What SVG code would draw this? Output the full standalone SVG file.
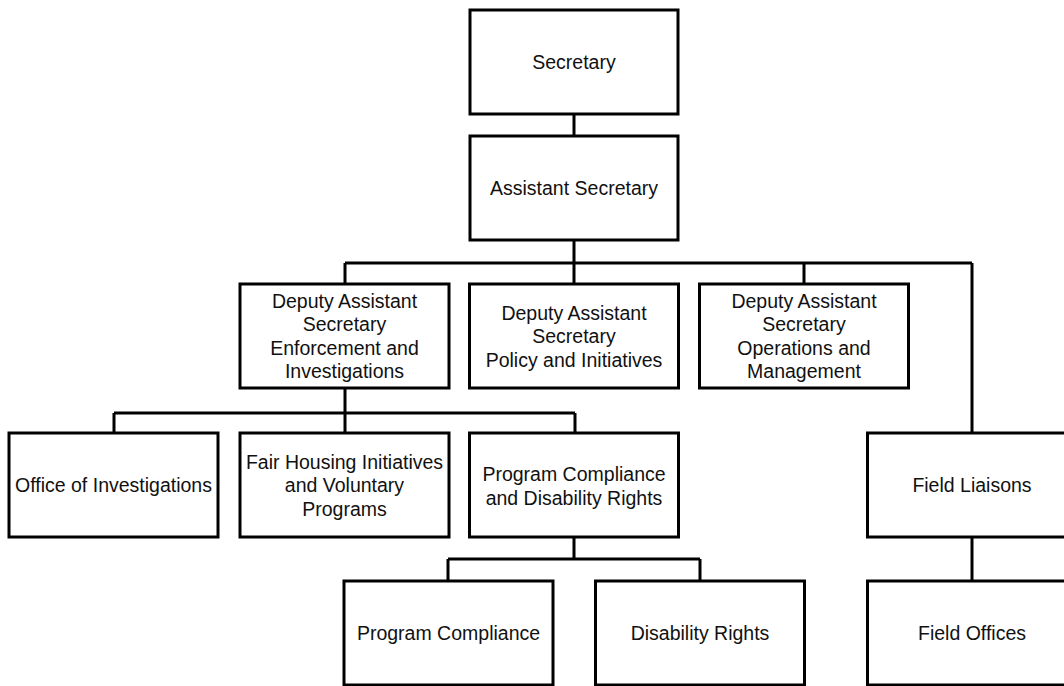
<svg xmlns="http://www.w3.org/2000/svg" width="1064" height="686" viewBox="0 0 1064 686">
<style>
.box{fill:#fff;stroke:#000;stroke-width:3}
.lbl{font-family:"Liberation Sans",Arial,sans-serif;font-size:19.5px;fill:#111;text-anchor:middle}
.con{fill:none;stroke:#000;stroke-width:3}
</style>
<rect width="1064" height="686" fill="#fff"/>
<g id="connectors">
<path class="con" d="M574 114V136"/>
<path class="con" d="M574 240V263M345 263H972M345 263V284M574 263V284M804 263V284M972 263V433"/>
<path class="con" d="M345 388V413M114 413H575M114 413V433M345 413V433M575 413V433"/>
<path class="con" d="M574 537V559M448 559H700M448 559V581M700 559V581"/>
<path class="con" d="M972 537V581"/>
</g>
<g id="secretary"><rect class="box" x="470" y="10" width="208" height="104"/><text class="lbl" x="574" y="69">Secretary</text></g>
<g id="assistant-secretary"><rect class="box" x="470" y="136" width="208" height="104"/><text class="lbl" x="574" y="195">Assistant Secretary</text></g>
<g id="das-enforcement"><rect class="box" x="240" y="284" width="209" height="104"/><text class="lbl" x="344.5" y="307.75">Deputy Assistant</text><text class="lbl" x="344.5" y="331.25">Secretary</text><text class="lbl" x="344.5" y="354.75">Enforcement and</text><text class="lbl" x="344.5" y="378.25">Investigations</text></g>
<g id="das-policy"><rect class="box" x="469.5" y="284" width="209" height="104"/><text class="lbl" x="574" y="319.5">Deputy Assistant</text><text class="lbl" x="574" y="343">Secretary</text><text class="lbl" x="574" y="366.5">Policy and Initiatives</text></g>
<g id="das-operations"><rect class="box" x="699.5" y="284" width="209" height="104"/><text class="lbl" x="804" y="307.75">Deputy Assistant</text><text class="lbl" x="804" y="331.25">Secretary</text><text class="lbl" x="804" y="354.75">Operations and</text><text class="lbl" x="804" y="378.25">Management</text></g>
<g id="office-investigations"><rect class="box" x="9" y="433" width="209" height="104"/><text class="lbl" x="113.5" y="492">Office of Investigations</text></g>
<g id="fair-housing"><rect class="box" x="240" y="433" width="209" height="104"/><text class="lbl" x="344.5" y="468.5">Fair Housing Initiatives</text><text class="lbl" x="344.5" y="492">and Voluntary</text><text class="lbl" x="344.5" y="515.5">Programs</text></g>
<g id="program-compliance-disability"><rect class="box" x="469.5" y="433" width="209" height="104"/><text class="lbl" x="574" y="481">Program Compliance</text><text class="lbl" x="574" y="504.5">and Disability Rights</text></g>
<g id="field-liaisons"><rect class="box" x="867.5" y="433" width="209" height="104"/><text class="lbl" x="972" y="492">Field Liaisons</text></g>
<g id="program-compliance"><rect class="box" x="344" y="581" width="209" height="104"/><text class="lbl" x="448.5" y="640">Program Compliance</text></g>
<g id="disability-rights"><rect class="box" x="595.5" y="581" width="209" height="104"/><text class="lbl" x="700" y="640">Disability Rights</text></g>
<g id="field-offices"><rect class="box" x="867.5" y="581" width="209" height="104"/><text class="lbl" x="972" y="640">Field Offices</text></g>
</svg>
